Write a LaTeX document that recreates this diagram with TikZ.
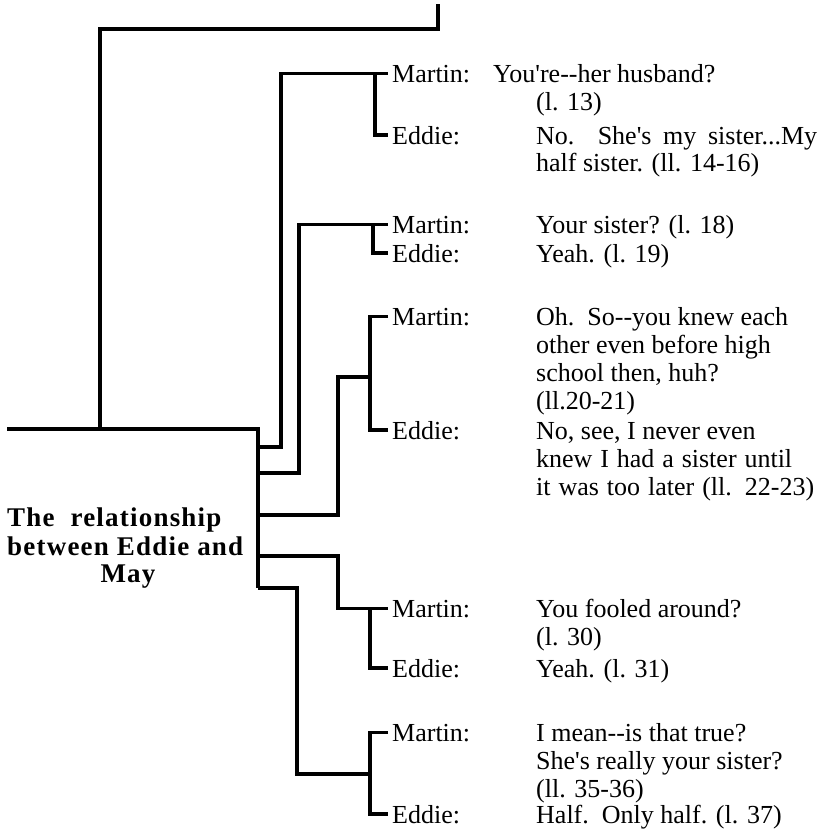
\documentclass[tikz,border=0pt]{standalone}
\usepackage{fontspec}
\setmainfont{Liberation Serif}
\newfontfamily\titlefont[LetterSpace=4.5]{Liberation Serif}
\newcommand\hh{-\kern0pt-}
\newcommand\q{\textquotesingle}
\begin{document}
\begin{tikzpicture}[x=1pt,y=-1pt,
  conn/.style={line width=3.4pt},
  lab/.style={anchor=base west, inner xsep=4pt, inner ysep=0pt, font=\fontsize{26}{28}\selectfont},
  txt/.style={anchor=base west, inner sep=0pt, font=\fontsize{26}{28}\selectfont},
  ttl/.style={inner sep=0pt, font=\titlefont\bfseries\fontsize{27}{29}\selectfont}]
\useasboundingbox (0,0) rectangle (821,831);

% title
\node[ttl, anchor=base west] (t1) at (7,526) {The\ \ relationship};
\node[ttl, anchor=base west] (t2) at (7,555) {between Eddie and};
\node[ttl, anchor=base] (t3) at (128,582) {May};

% speaker labels
\node[lab] (m1) at (388,82) {Martin:};
\node[lab] (e1) at (388,144) {Eddie:};
\node[lab] (m2) at (388,233) {Martin:};
\node[lab] (e2) at (388,262) {Eddie:};
\node[lab] (m3) at (388,325) {Martin:};
\node[lab] (e3) at (388,439) {Eddie:};
\node[lab] (m4) at (388,617) {Martin:};
\node[lab] (e4) at (388,677) {Eddie:};
\node[lab] (m5) at (388,741) {Martin:};
\node[lab] (e5) at (388,823) {Eddie:};

% dialogue
\node[txt] (d1a) at (493,82) {You\q re\hh her husband?};
\node[txt] (d1b) at (536,110) {(l. 13)};
\node[txt] (d1c) at (536,144) {\makebox[281pt][s]{No.\ \ She\q s my sister...My}};
\node[txt] (d1d) at (536,171) {half sister. (ll. 14-16)};
\node[txt] (d2a) at (536,233) {Your sister? (l. 18)};
\node[txt] (d2b) at (536,262) {Yeah. (l. 19)};
\node[txt] (d3a) at (536,325) {Oh.\ \ So\hh you knew each};
\node[txt] (d3b) at (536,353) {other even before high};
\node[txt] (d3c) at (536,381) {school then, huh?};
\node[txt] (d3d) at (536,409) {(ll.20-21)};
\node[txt] (d3e) at (536,439) {No, see, I never even};
\node[txt] (d3f) at (536,467) {\makebox[256pt][s]{knew I had a sister until}};
\node[txt] (d3g) at (536,495) {\makebox[278pt][s]{it was too later (ll. 22-23)}};
\node[txt] (d4a) at (536,617) {You fooled around?};
\node[txt] (d4b) at (536,645) {(l. 30)};
\node[txt] (d4c) at (536,677) {Yeah. (l. 31)};
\node[txt] (d5a) at (536,741) {I mean\hh is that true?};
\node[txt] (d5b) at (536,769) {She\q s really your sister?};
\node[txt] (d5c) at (536,797) {(ll. 35-36)};
\node[txt] (d5d) at (536,823) {Half.\ \ Only half. (l. 37)};

% structural coordinates
\coordinate (top) at (438,4);
\coordinate (tc) at (100,29);
\coordinate (bj) at (100,429);
\coordinate (lend) at (7,429);
\coordinate (t0) at (258,429);
\coordinate (s1) at (258,447);
\coordinate (s2) at (258,473);
\coordinate (s3) at (258,515);
\coordinate (s4) at (258,556);
\coordinate (s5) at (258,588);
\coordinate (v3) at (338,377);
\coordinate (k3) at (370,377);
\coordinate (v5) at (297,774);
\coordinate (k5) at (370,774);

\draw[conn] (top) |- (tc) -- (bj);
\draw[conn] (lend) -- (t0) -- (s5);

% branch 1
\draw[conn] (s1) -| (281,0 |- m1.west) -- (m1.west);
\draw[conn] (375,0 |- m1.west) |- (e1.west);
% branch 2
\draw[conn] (s2) -| (299,0 |- m2.west) -- (m2.west);
\draw[conn] (373,0 |- m2.west) |- (e2.west);
% branch 3
\draw[conn] (s3) -| (v3) -- (k3);
\draw[conn] (m3.west) -| (370,0 |- e3.west) -- (e3.west);
% branch 4
\draw[conn] (s4) -| (338,0 |- m4.west) -- (m4.west);
\draw[conn] (370,0 |- m4.west) |- (e4.west);
% branch 5
\draw[conn] (s5) -| (v5) -- (k5);
\draw[conn] (m5.west) -| (370,0 |- e5.west) -- (e5.west);
\end{tikzpicture}
\end{document}
